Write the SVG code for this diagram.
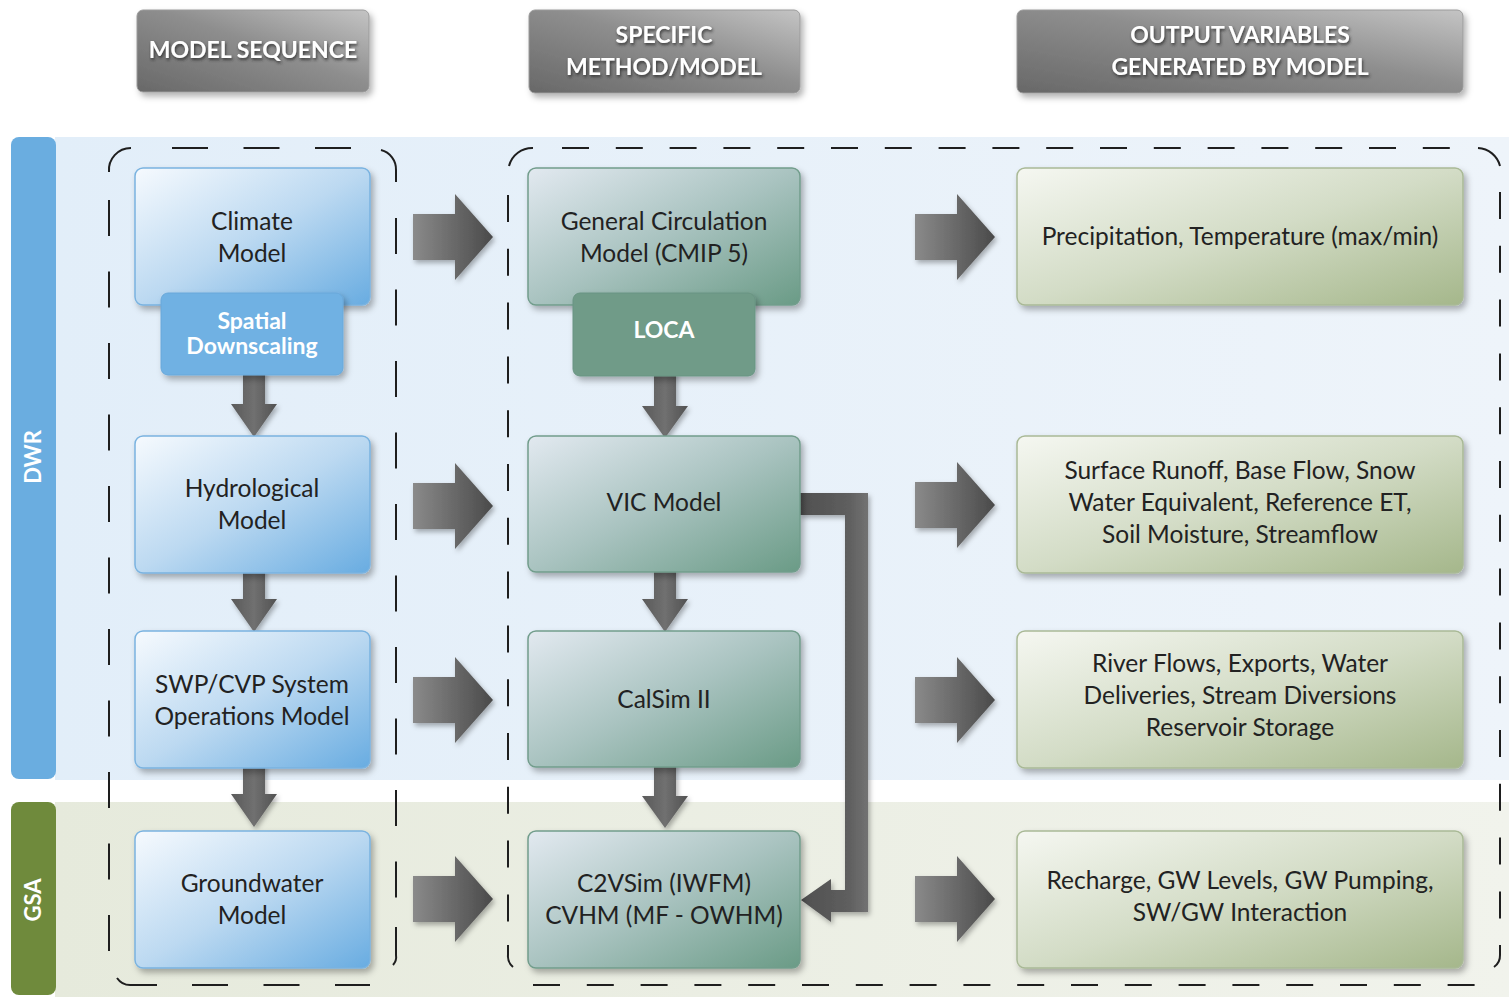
<svg xmlns="http://www.w3.org/2000/svg" width="1509" height="997" viewBox="0 0 1509 997">
<defs>
  <linearGradient id="gBlue" x1="0" y1="0" x2="1" y2="1">
    <stop offset="0" stop-color="#f6fafe"/>
    <stop offset="0.5" stop-color="#bcd9f1"/>
    <stop offset="1" stop-color="#68ace1"/>
  </linearGradient>
  <linearGradient id="gTeal" x1="0" y1="0" x2="1" y2="1">
    <stop offset="0" stop-color="#e2e9f0"/>
    <stop offset="0.5" stop-color="#a9c3c0"/>
    <stop offset="1" stop-color="#6a9b86"/>
  </linearGradient>
  <linearGradient id="gOlive" x1="0" y1="0" x2="1" y2="1">
    <stop offset="0" stop-color="#f5f7f1"/>
    <stop offset="0.5" stop-color="#d3dcc6"/>
    <stop offset="1" stop-color="#a5b78b"/>
  </linearGradient>
  <linearGradient id="gHead" x1="0" y1="1" x2="1" y2="0">
    <stop offset="0" stop-color="#686868"/>
    <stop offset="0.55" stop-color="#8e8e8e"/>
    <stop offset="1" stop-color="#c4c4c4"/>
  </linearGradient>
  <linearGradient id="gArrowH" x1="0" y1="0" x2="1" y2="0">
    <stop offset="0" stop-color="#8a8a8a"/>
    <stop offset="1" stop-color="#4a4a4a"/>
  </linearGradient>
  <linearGradient id="gArrowV" x1="0" y1="0" x2="1" y2="0">
    <stop offset="0" stop-color="#5a5a5a"/>
    <stop offset="0.5" stop-color="#707070"/>
    <stop offset="1" stop-color="#525252"/>
  </linearGradient>
  <linearGradient id="gElbow" x1="0" y1="0" x2="1" y2="0">
    <stop offset="0" stop-color="#505050"/>
    <stop offset="0.7" stop-color="#5e5e5e"/>
    <stop offset="1" stop-color="#727272"/>
  </linearGradient>
  <linearGradient id="gDwrBg" x1="0" y1="0" x2="1" y2="0">
    <stop offset="0" stop-color="#e2eef9"/>
    <stop offset="1" stop-color="#eef4fa"/>
  </linearGradient>
  <linearGradient id="gGsaBg" x1="0" y1="0" x2="1" y2="0">
    <stop offset="0" stop-color="#e6eadc"/>
    <stop offset="1" stop-color="#f1f3ec"/>
  </linearGradient>
  <filter id="shadow" x="-10%" y="-10%" width="125%" height="130%">
    <feDropShadow dx="3" dy="4" stdDeviation="3" flood-color="#000" flood-opacity="0.3"/>
  </filter>
  <filter id="ashadow" x="-20%" y="-20%" width="150%" height="150%">
    <feDropShadow dx="2" dy="3" stdDeviation="2.5" flood-color="#000" flood-opacity="0.3"/>
  </filter>
  <filter id="tshadow" x="-10%" y="-30%" width="120%" height="160%">
    <feDropShadow dx="1" dy="2" stdDeviation="1.5" flood-color="#2a2a2a" flood-opacity="0.85"/>
  </filter>
  <path id="harrow" d="M0,-23 H42 V-43 L80,0 L42,43 V23 H0 Z"/>
</defs>
<style>
  .lbl { font-family: "Lato", "Liberation Sans", sans-serif; font-size: 24.5px; fill: #222; text-anchor: middle; }
  .wb { font-family: "Lato", "Liberation Sans", sans-serif; font-weight: bold; fill: #fff; text-anchor: middle; }
  .hdr { font-size: 23px; filter: url(#tshadow); }
  .sub { font-size: 23px; }
  .side { font-size: 22px; }
  .blue { fill: url(#gBlue); stroke: #7ab3e0; stroke-width: 1.5; filter: url(#shadow); }
  .teal { fill: url(#gTeal); stroke: #729d8c; stroke-width: 1.5; filter: url(#shadow); }
  .olive { fill: url(#gOlive); stroke: #a9b996; stroke-width: 1.5; filter: url(#shadow); }
  .head { fill: url(#gHead); stroke: #9a9a9a; stroke-width: 1; filter: url(#shadow); }
  .dl { fill: none; stroke: #1e1e1e; stroke-width: 2; }
  .dA { stroke-dasharray: 36 35.5; }
  .dB { stroke-dasharray: 27 26.8; }
  .ha { fill: url(#gArrowH); filter: url(#ashadow); }
  .va { fill: url(#gArrowV); filter: url(#ashadow); }
</style>

<rect width="1509" height="997" fill="#ffffff"/>

<g id="bands">
  <rect x="55" y="137" width="1454" height="643" fill="url(#gDwrBg)"/>
  <rect x="55" y="802" width="1454" height="195" fill="url(#gGsaBg)"/>
</g>

<g id="dwr-label">
  <rect x="11" y="137" width="45" height="642" rx="8" fill="#6aade0"/>
  <text class="wb side" transform="translate(41,457) rotate(-90)">DWR</text>
</g>
<g id="gsa-label">
  <rect x="11" y="802" width="45" height="193" rx="8" fill="#6f8a3c"/>
  <text class="wb side" transform="translate(41,900) rotate(-90)">GSA</text>
</g>

<g id="dashed-model-sequence">
  <path class="dl" d="M109,172 A22,22 0 0 1 131,148"/>
  <path class="dl dA" d="M172,148 H376"/>
  <path class="dl" d="M381,150 A20,20 0 0 1 396,170 V182"/>
  <path class="dl dA" d="M396,218 V925"/>
  <path class="dl" d="M396,927 V955 A12,12 0 0 1 393,965"/>
  <path class="dl dA" d="M192,985 H370"/>
  <path class="dl" d="M117,978 A16,16 0 0 0 131,985 H157"/>
  <path class="dl dA" d="M109,200 V952"/>
</g>
<g id="dashed-method-output">
  <path class="dl" d="M509,166 A24,24 0 0 1 533,148"/>
  <path class="dl dB" d="M562,148 H1470"/>
  <path class="dl" d="M1478,148 A24,24 0 0 1 1500,166"/>
  <path class="dl dB" d="M1500,192 V940"/>
  <path class="dl" d="M1500,945 V955 A14,14 0 0 1 1494,967"/>
  <path class="dl dB" d="M533,985 H1476"/>
  <path class="dl" d="M508,945 V955 A14,14 0 0 0 513,967"/>
  <path class="dl dB" d="M508,195 V940"/>
</g>

<g id="header-sequence">
  <rect class="head" x="137" y="10" width="232" height="82" rx="6"/>
  <text class="wb hdr" x="253" y="58">MODEL SEQUENCE</text>
</g>
<g id="header-method">
  <rect class="head" x="529" y="10" width="271" height="83" rx="6"/>
  <text class="wb hdr" x="664" y="43">SPECIFIC</text>
  <text class="wb hdr" x="664" y="75">METHOD/MODEL</text>
</g>
<g id="header-output">
  <rect class="head" x="1017" y="10" width="446" height="83" rx="6"/>
  <text class="wb hdr" x="1240" y="43">OUTPUT VARIABLES</text>
  <text class="wb hdr" x="1240" y="75">GENERATED BY MODEL</text>
</g>

<g id="connectors">
  <use href="#harrow" class="ha" x="413" y="237"/>
  <use href="#harrow" class="ha" x="413" y="506"/>
  <use href="#harrow" class="ha" x="413" y="700"/>
  <use href="#harrow" class="ha" x="413" y="899"/>
  <use href="#harrow" class="ha" x="915" y="237"/>
  <use href="#harrow" class="ha" x="915" y="505"/>
  <use href="#harrow" class="ha" x="915" y="700"/>
  <use href="#harrow" class="ha" x="915" y="899"/>
  <path class="va" d="M243,370 H265 V404 H277 L254,437 L231,404 H243 Z"/>
  <path class="va" d="M243,566 H265 V599 H277 L254,632 L231,599 H243 Z"/>
  <path class="va" d="M243,760 H265 V794 H277 L254,827 L231,794 H243 Z"/>
  <path class="va" d="M654,370 H676 V406 H688 L665,438 L642,406 H654 Z"/>
  <path class="va" d="M654,566 H676 V599 H688 L665,632 L642,599 H654 Z"/>
  <path class="va" d="M654,760 H676 V796 H688 L665,828 L642,796 H654 Z"/>
  <path d="M800,493 H868 V912 H831 V922 L801,900 L831,879 V890 H845 V515 H800 Z" fill="url(#gElbow)" filter="url(#ashadow)"/>
</g>

<g id="climate-model">
  <rect class="blue" x="135" y="168" width="235" height="137" rx="8"/>
  <text class="lbl" x="252" y="230">Climate</text>
  <text class="lbl" x="252" y="262">Model</text>
</g>
<g id="spatial-downscaling">
  <rect x="161" y="293" width="182" height="82" rx="7" fill="#6fb1e3" stroke="#6aa8da" stroke-width="1" filter="url(#shadow)"/>
  <text class="wb sub" x="252" y="329">Spatial</text>
  <text class="wb sub" x="252" y="354">Downscaling</text>
</g>
<g id="hydrological-model">
  <rect class="blue" x="135" y="436" width="235" height="137" rx="8"/>
  <text class="lbl" x="252" y="497">Hydrological</text>
  <text class="lbl" x="252" y="529">Model</text>
</g>
<g id="swp-cvp-model">
  <rect class="blue" x="135" y="631" width="235" height="137" rx="8"/>
  <text class="lbl" x="252" y="693">SWP/CVP System</text>
  <text class="lbl" x="252" y="725">Operations Model</text>
</g>
<g id="groundwater-model">
  <rect class="blue" x="135" y="831" width="235" height="137" rx="8"/>
  <text class="lbl" x="252" y="892">Groundwater</text>
  <text class="lbl" x="252" y="924">Model</text>
</g>

<g id="gcm">
  <rect class="teal" x="528" y="168" width="272" height="137" rx="8"/>
  <text class="lbl" x="664" y="230">General Circulation</text>
  <text class="lbl" x="664" y="262">Model (CMIP 5)</text>
</g>
<g id="loca">
  <rect x="573" y="293" width="182" height="83" rx="7" fill="#6f9b88" stroke="#6a9483" stroke-width="1" filter="url(#shadow)"/>
  <text class="wb sub" x="664" y="338">LOCA</text>
</g>
<g id="vic-model">
  <rect class="teal" x="528" y="436" width="272" height="136" rx="8"/>
  <text class="lbl" x="664" y="511">VIC Model</text>
</g>
<g id="calsim">
  <rect class="teal" x="528" y="631" width="272" height="136" rx="8"/>
  <text class="lbl" x="664" y="708">CalSim II</text>
</g>
<g id="c2vsim">
  <rect class="teal" x="528" y="831" width="272" height="137" rx="8"/>
  <text class="lbl" x="664" y="892">C2VSim (IWFM)</text>
  <text class="lbl" x="664" y="924">CVHM (MF - OWHM)</text>
</g>

<g id="out-climate">
  <rect class="olive" x="1017" y="168" width="446" height="137" rx="8"/>
  <text class="lbl" x="1240" y="245">Precipitation, Temperature (max/min)</text>
</g>
<g id="out-hydro">
  <rect class="olive" x="1017" y="436" width="446" height="137" rx="8"/>
  <text class="lbl" x="1240" y="479">Surface Runoff, Base Flow, Snow</text>
  <text class="lbl" x="1240" y="511">Water Equivalent, Reference ET,</text>
  <text class="lbl" x="1240" y="543">Soil Moisture, Streamflow</text>
</g>
<g id="out-ops">
  <rect class="olive" x="1017" y="631" width="446" height="137" rx="8"/>
  <text class="lbl" x="1240" y="672">River Flows, Exports, Water</text>
  <text class="lbl" x="1240" y="704">Deliveries, Stream Diversions</text>
  <text class="lbl" x="1240" y="736">Reservoir Storage</text>
</g>
<g id="out-gw">
  <rect class="olive" x="1017" y="831" width="446" height="137" rx="8"/>
  <text class="lbl" x="1240" y="889">Recharge, GW Levels, GW Pumping,</text>
  <text class="lbl" x="1240" y="921">SW/GW Interaction</text>
</g>
</svg>
